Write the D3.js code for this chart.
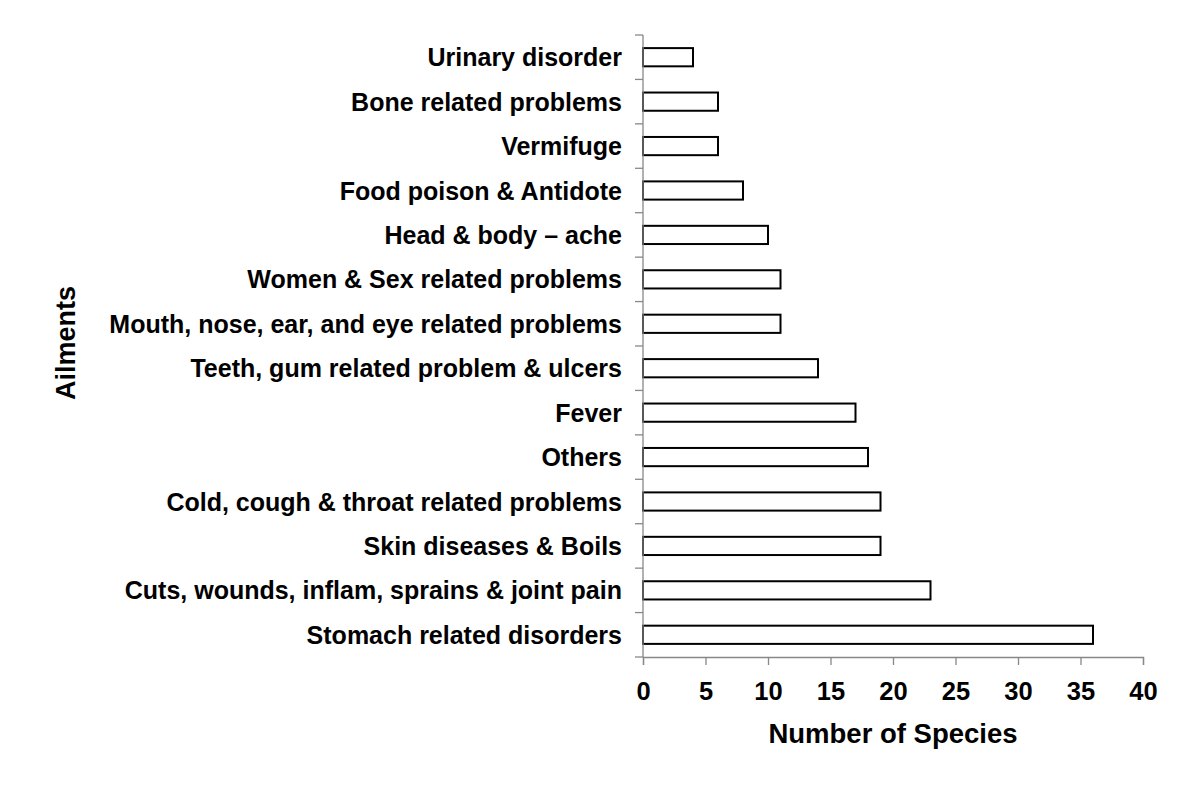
<!DOCTYPE html>
<html><head><meta charset="utf-8">
<script src="https://cdn.jsdelivr.net/npm/d3@7"></script>
<style>body{margin:0;background:#fff}svg{display:block}text{font-family:"Liberation Sans",Arial,sans-serif;font-weight:bold;fill:#000}</style>
</head><body>
<svg id="c" width="1200" height="804"></svg>
<script>
const categories = ["Urinary disorder","Bone related problems","Vermifuge","Food poison & Antidote","Head & body \u2013 ache","Women & Sex related problems","Mouth, nose, ear, and eye related problems","Teeth, gum related problem & ulcers","Fever","Others","Cold, cough & throat related problems","Skin diseases & Boils","Cuts, wounds, inflam, sprains & joint pain","Stomach related disorders"];
const values = [4,6,6,8,10,11,11,14,17,18,19,19,23,36];
const xTicks = [0,5,10,15,20,25,30,35,40];
const xTitle = "Number of Species";
const yTitle = "Ailments";

const svg = d3.select("#c");
const x = d3.scaleLinear().domain([0,40]).range([643,1143]);
const y = d3.scaleBand().domain(categories).range([35,657]).paddingInner(0).paddingOuter(0);
const barH = y.bandwidth()*0.41;

// bars
svg.selectAll("rect.bar").data(values).join("rect")
  .attr("x", x(0))
  .attr("y", (d,i)=> y(categories[i]) + y.bandwidth()/2 - barH/2)
  .attr("width", d=> x(d)-x(0))
  .attr("height", barH)
  .attr("fill","#fff").attr("stroke","#000").attr("stroke-width",2);

// y axis line + ticks at band boundaries
const gy = svg.append("g");
gy.append("line").attr("x1",x(0)).attr("x2",x(0)).attr("y1",35).attr("y2",657).attr("stroke","#888").attr("stroke-width",1.3);
const bounds = categories.map(c=>y(c)).concat([657]);
gy.selectAll("line.t").data(bounds).join("line").attr("class","t")
  .attr("x1",x(0)-8).attr("x2",x(0)).attr("y1",d=>d).attr("y2",d=>d).attr("stroke","#888").attr("stroke-width",1.3);
gy.selectAll("text").data(categories).join("text")
  .attr("x",622).attr("y",c=>y(c)+y.bandwidth()/2).attr("dy","0.36em")
  .attr("text-anchor","end").attr("font-size",25).text(c=>c);

// x axis
const gx = svg.append("g").attr("transform","translate(0,657)");
const xAxis = d3.axisBottom(x).tickValues(xTicks).tickSize(8).tickPadding(17).tickFormat(d3.format("d"));
gx.call(xAxis);
gx.select(".domain").attr("stroke","#888").attr("stroke-width",1.3);
gx.selectAll(".tick line").attr("stroke","#888").attr("stroke-width",1.3);
gx.selectAll(".tick text").attr("font-size",25.5).attr("font-family","Liberation Sans, Arial, sans-serif").attr("font-weight","bold").attr("fill","#000");

svg.append("text").attr("x",893).attr("y",743).attr("text-anchor","middle").attr("font-size",27.5).text(xTitle);
svg.append("text").attr("transform","translate(75,343) rotate(-90)").attr("text-anchor","middle").attr("font-size",27).text(yTitle);
</script>
</body></html>
